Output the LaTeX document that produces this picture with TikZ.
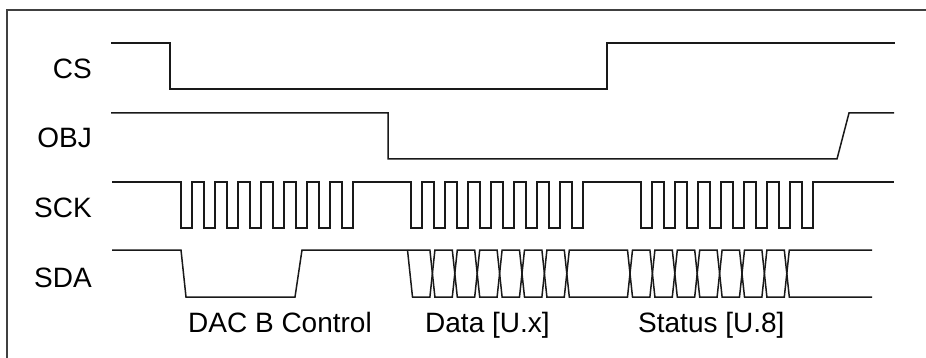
\documentclass[tikz,border=0pt]{standalone}
\usepackage{fontspec}
\setmainfont{Liberation Sans}
\begin{document}
\begin{tikzpicture}[x=1pt,y=-1pt,
  sig/.style={line width=1.5pt,draw=black!90,line join=miter},
  frame/.style={line width=1.8pt,draw=black!75},
  lab/.style={inner sep=0pt,font=\fontsize{28}{32}\selectfont}]
\useasboundingbox (0,0) rectangle (926,358);
\clip (0,0) rectangle (926,358);
% frame
\draw[frame] (940,10) -- (7,10) -- (7,380);
% labels
\node[lab,anchor=base east] (cs)  at (92,78.5)  {CS};
\node[lab,anchor=base east] (obj) at (92,147.5) {OBJ};
\node[lab,anchor=base east] (sck) at (92,217.5) {SCK};
\node[lab,anchor=base east] (sda) at (92,287.5) {SDA};
\node[lab,anchor=base west] (dac) at (188,332) {DAC B Control};
\node[lab,anchor=base west] (dat) at (425,332) {Data [U.x]};
\node[lab,anchor=base west] (sta) at (638,332) {Status [U.8]};
% CS
\draw[sig] (111,43) -- (170,43) -- (170,89) -- (607,89) -- (607,43) -- (895,43);
% OBJ
\draw[sig] (111,113) -- (388,113) -- (388,159) -- (837,159) -- (849,113) -- (894,113);
% SCK
\draw[sig] (112,182)
  foreach \s in {181,411,641} {
    foreach \k in {0,...,7} {
      -- ({\s+23*\k},182) -- ({\s+23*\k},228) -- ({\s+23*\k+11},228) -- ({\s+23*\k+11},182)
    }
  } -- (894,182);
% SDA
\draw[sig] (112,250) -- (181,250) -- (186,297) -- (295,297) -- (302,250)
  foreach \c [count=\i] in {432.4,454.8,477.2,499.6,522.0,544.4,566.8,630.0,652.4,674.8,697.2,719.6,742.0,764.4,786.8} {
    -- ({\c-2.5},{297-47*mod(\i,2)}) -- ({\c+2.5},{250+47*mod(\i,2)})
  } -- (872,297);
\draw[sig] (407.5,250) -- (412.5,297)
  foreach \c [count=\i] in {432.4,454.8,477.2,499.6,522.0,544.4,566.8,630.0,652.4,674.8,697.2,719.6,742.0,764.4,786.8} {
    -- ({\c-2.5},{250+47*mod(\i,2)}) -- ({\c+2.5},{297-47*mod(\i,2)})
  } -- (872,250);
\end{tikzpicture}
\end{document}
